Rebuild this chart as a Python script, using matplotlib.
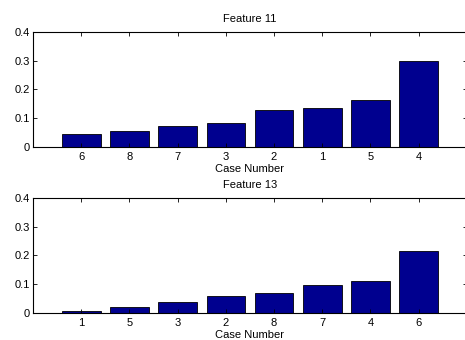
import matplotlib
matplotlib.use("Agg")
import matplotlib.pyplot as plt
import numpy as np

plt.rcParams['font.family'] = ['Liberation Sans', 'DejaVu Sans']

# Feature 11: cases sorted by ascending value
f11_cases = ['6', '8', '7', '3', '2', '1', '5', '4']
f11_values = [0.045, 0.057, 0.071, 0.083, 0.129, 0.134, 0.163, 0.298]

# Feature 13: cases sorted by ascending value
f13_cases = ['1', '5', '3', '2', '8', '7', '4', '6']
f13_values = [0.008, 0.019, 0.036, 0.060, 0.070, 0.097, 0.112, 0.216]

y_ticks = [0, 0.1, 0.2, 0.3, 0.4]
y_ticklabels = ['0', '0.1', '0.2', '0.3', '0.4']

fig = plt.figure(figsize=(4.65, 3.4), dpi=100)
bar_color = '#00008F'
fs = 8

def draw(ax, cases, values, title):
    x = np.arange(1, len(cases) + 1)
    ax.bar(x, values, width=0.8, color=bar_color, edgecolor='black', linewidth=0.6)
    ax.set_xlim(0, len(cases) + 1)
    ax.set_ylim(0, 0.4)
    ax.set_xticks(x)
    ax.set_xticklabels(cases, fontsize=fs)
    ax.set_yticks(y_ticks)
    ax.set_yticklabels(y_ticklabels, fontsize=fs)
    ax.tick_params(direction='in', length=3, width=0.6, top=True, right=True)
    ax.tick_params(axis='x', pad=4)
    ax.tick_params(axis='y', pad=2)
    for s in ax.spines.values():
        s.set_linewidth(0.8)
    ax.set_xlabel('Case Number', fontsize=fs, labelpad=1)
    ax.set_title(title, fontsize=fs, pad=7)

ax1 = fig.add_axes([0.071, 0.568, 0.933, 0.338])
draw(ax1, f11_cases, f11_values, 'Feature 11')

ax2 = fig.add_axes([0.071, 0.080, 0.933, 0.338])
draw(ax2, f13_cases, f13_values, 'Feature 13')

fig.savefig('out.png', dpi=100)
